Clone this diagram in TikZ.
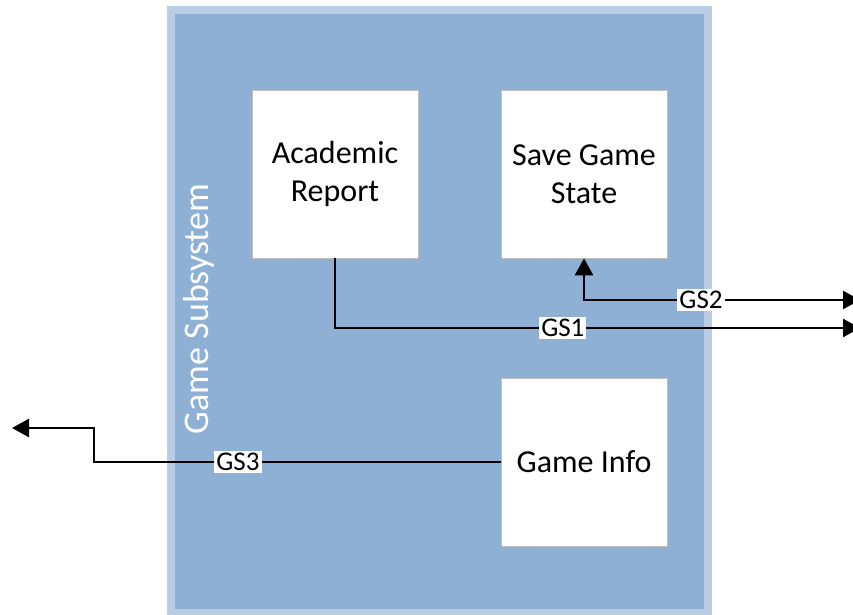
\documentclass[tikz,border=0pt]{standalone}
\usepackage{fontspec}
\setmainfont{Carlito}
\usetikzlibrary{arrows.meta}
\definecolor{frameLight}{RGB}{185,205,229}
\definecolor{frameDark}{RGB}{142,176,212}
\tikzset{
  block/.style={fill=white, draw=black!25, line width=0.6pt, minimum width=166pt, minimum height=168pt,
    inner sep=0pt, align=center, font=\fontsize{32}{38}\selectfont},
  tip/.tip={Triangle[length=17pt,width=18pt]},
  link/.style={line width=2.6pt, -tip},
  tag/.style={fill=white, inner sep=2pt, font=\fontsize{27}{29}\selectfont}
}
\begin{document}
\begin{tikzpicture}[x=1pt,y=-1pt]
\useasboundingbox (0,0) rectangle (853,614);
% subsystem frame
\fill[frameLight] (167,6) rectangle (712,620);
\fill[frameDark] (175,14) rectangle (704,609);
\node[rotate=90, text=white, font=\fontsize{36}{40}\selectfont] (sub) at (199,309) {Game Subsystem};
% components
\node[block] (ar) at (335,174) {Academic\\Report};
\node[block] (sg) at (584,174) {Save Game\\State};
\node[block] (gi) at (584,462) {Game Info};
% free ends
\coordinate (e1) at (860,328);
\coordinate (e2) at (860,300);
\coordinate (e3) at (12,428);
% connectors
\draw[link] (ar.south) |- (e1) node[tag, pos=0.717] {GS1};
\draw[link, tip-tip] (sg.south) |- (e2) node[tag, pos=0.712] {GS2};
\draw[link] (gi.west) -- (94,462) node[tag, pos=0.646] {GS3} -- (94,428) -- (e3);
\end{tikzpicture}
\end{document}
